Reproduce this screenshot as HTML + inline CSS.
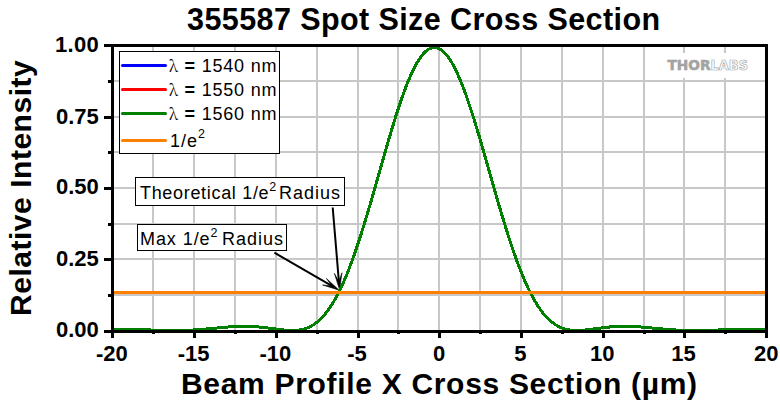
<!DOCTYPE html>
<html><head><meta charset="utf-8"><title>355587 Spot Size Cross Section</title>
<style>html,body{margin:0;padding:0;background:#fff;overflow:hidden}svg{display:block}</style>
</head><body>
<svg width="780" height="402" viewBox="0 0 780 402"><rect x="0" y="0" width="780" height="402" fill="#fff"/>
<g fill="#c8c8c8"><rect x="152" y="47" width="2" height="283"/><rect x="193" y="47" width="2" height="283"/><rect x="234" y="47" width="2" height="283"/><rect x="275" y="47" width="2" height="283"/><rect x="316" y="47" width="2" height="283"/><rect x="357" y="47" width="2" height="283"/><rect x="397" y="47" width="2" height="283"/><rect x="438" y="47" width="2" height="283"/><rect x="479" y="47" width="2" height="283"/><rect x="520" y="47" width="2" height="283"/><rect x="561" y="47" width="2" height="283"/><rect x="602" y="47" width="2" height="283"/><rect x="643" y="47" width="2" height="283"/><rect x="683" y="47" width="2" height="283"/><rect x="724" y="47" width="2" height="283"/><rect x="114" y="80" width="651" height="2"/><rect x="114" y="116" width="651" height="2"/><rect x="114" y="151" width="651" height="2"/><rect x="114" y="187" width="651" height="2"/><rect x="114" y="223" width="651" height="2"/><rect x="114" y="258" width="651" height="2"/><rect x="114" y="294" width="651" height="2"/></g>
<rect x="662" y="53" width="90" height="25" fill="#fff"/>
<text x="667.5" y="70" font-family="DejaVu Sans, sans-serif" font-weight="bold" font-size="14.2" fill="#a3a3a3" stroke="#a3a3a3" stroke-width="0.6" textLength="43" lengthAdjust="spacingAndGlyphs">THOR</text>
<text x="710.5" y="70" font-family="DejaVu Sans, sans-serif" font-weight="bold" font-size="14.2" fill="#fff" stroke="#a8a8a8" stroke-width="0.7" textLength="37.5" lengthAdjust="spacingAndGlyphs">LABS</text>
<line x1="332.7" y1="207.5" x2="338.93" y2="282.03" stroke="#000" stroke-width="2"/><path d="M339.6,290 L334.40,273.38 L338.89,281.53 L341.97,272.74 Z" fill="#000" stroke="#000" stroke-width="0.6" stroke-linejoin="miter"/>
<line x1="274.4" y1="252.7" x2="332.28" y2="286.19" stroke="#000" stroke-width="2"/><path d="M339.2,290.2 L322.58,284.97 L331.84,285.94 L326.39,278.40 Z" fill="#000" stroke="#000" stroke-width="0.6" stroke-linejoin="miter"/>
<clipPath id="pc"><rect x="114" y="47" width="651" height="283"/></clipPath>
<g clip-path="url(#pc)">
<path d="M114.0,329.55 L114.5,329.55 L115.0,329.54 L115.5,329.54 L116.0,329.53 L116.5,329.53 L117.0,329.52 L117.5,329.52 L118.0,329.52 L118.5,329.51 L119.0,329.51 L119.5,329.51 L120.0,329.51 L120.5,329.50 L121.0,329.50 L121.5,329.50 L122.0,329.50 L122.5,329.50 L123.0,329.50 L123.5,329.50 L124.0,329.50 L124.5,329.50 L125.0,329.50 L125.5,329.51 L126.0,329.51 L126.5,329.51 L127.0,329.51 L127.5,329.52 L128.0,329.52 L128.5,329.52 L129.0,329.53 L129.5,329.53 L130.0,329.54 L130.5,329.54 L131.0,329.55 L131.5,329.56 L132.0,329.56 L132.5,329.57 L133.0,329.58 L133.5,329.58 L134.0,329.59 L134.5,329.60 L135.0,329.61 L135.5,329.62 L136.0,329.63 L136.5,329.64 L137.0,329.65 L137.5,329.66 L138.0,329.67 L138.5,329.68 L139.0,329.69 L139.5,329.70 L140.0,329.71 L140.5,329.72 L141.0,329.74 L141.5,329.75 L142.0,329.76 L142.5,329.77 L143.0,329.79 L143.5,329.80 L144.0,329.81 L144.5,329.83 L145.0,329.84 L145.5,329.86 L146.0,329.87 L146.5,329.88 L147.0,329.90 L147.5,329.91 L148.0,329.93 L148.5,329.94 L149.0,329.96 L149.5,329.97 L150.0,329.99 L150.5,330.00 L151.0,330.02 L151.5,330.03 L152.0,330.05 L152.5,330.06 L153.0,330.08 L153.5,330.09 L154.0,330.11 L154.5,330.12 L155.0,330.14 L155.5,330.15 L156.0,330.17 L156.5,330.18 L157.0,330.19 L157.5,330.21 L158.0,330.22 L158.5,330.24 L159.0,330.25 L159.5,330.26 L160.0,330.28 L160.5,330.29 L161.0,330.30 L161.5,330.32 L162.0,330.33 L162.5,330.34 L163.0,330.35 L163.5,330.36 L164.0,330.37 L164.5,330.38 L165.0,330.39 L165.5,330.40 L166.0,330.41 L166.5,330.42 L167.0,330.43 L167.5,330.44 L168.0,330.45 L168.5,330.45 L169.0,330.46 L169.5,330.47 L170.0,330.47 L170.5,330.48 L171.0,330.48 L171.5,330.49 L172.0,330.49 L172.5,330.49 L173.0,330.50 L173.5,330.50 L174.0,330.50 L174.5,330.50 L175.0,330.50 L175.5,330.50 L176.0,330.50 L176.5,330.50 L177.0,330.49 L177.5,330.49 L178.0,330.49 L178.5,330.48 L179.0,330.47 L179.5,330.47 L180.0,330.46 L180.5,330.45 L181.0,330.45 L181.5,330.44 L182.0,330.43 L182.5,330.41 L183.0,330.40 L183.5,330.39 L184.0,330.38 L184.5,330.36 L185.0,330.35 L185.5,330.33 L186.0,330.32 L186.5,330.30 L187.0,330.28 L187.5,330.26 L188.0,330.24 L188.5,330.22 L189.0,330.20 L189.5,330.18 L190.0,330.16 L190.5,330.13 L191.0,330.11 L191.5,330.08 L192.0,330.06 L192.5,330.03 L193.0,330.00 L193.5,329.98 L194.0,329.95 L194.5,329.92 L195.0,329.89 L195.5,329.86 L196.0,329.82 L196.5,329.79 L197.0,329.76 L197.5,329.72 L198.0,329.69 L198.5,329.65 L199.0,329.62 L199.5,329.58 L200.0,329.54 L200.5,329.50 L201.0,329.46 L201.5,329.42 L202.0,329.38 L202.5,329.34 L203.0,329.30 L203.5,329.26 L204.0,329.22 L204.5,329.17 L205.0,329.13 L205.5,329.09 L206.0,329.04 L206.5,329.00 L207.0,328.95 L207.5,328.91 L208.0,328.86 L208.5,328.81 L209.0,328.77 L209.5,328.72 L210.0,328.67 L210.5,328.63 L211.0,328.58 L211.5,328.53 L212.0,328.48 L212.5,328.43 L213.0,328.38 L213.5,328.33 L214.0,328.29 L214.5,328.24 L215.0,328.19 L215.5,328.14 L216.0,328.09 L216.5,328.04 L217.0,327.99 L217.5,327.94 L218.0,327.90 L218.5,327.85 L219.0,327.80 L219.5,327.75 L220.0,327.70 L220.5,327.66 L221.0,327.61 L221.5,327.56 L222.0,327.51 L222.5,327.47 L223.0,327.42 L223.5,327.38 L224.0,327.33 L224.5,327.29 L225.0,327.25 L225.5,327.20 L226.0,327.16 L226.5,327.12 L227.0,327.08 L227.5,327.04 L228.0,327.00 L228.5,326.96 L229.0,326.92 L229.5,326.88 L230.0,326.85 L230.5,326.81 L231.0,326.78 L231.5,326.74 L232.0,326.71 L232.5,326.68 L233.0,326.65 L233.5,326.62 L234.0,326.59 L234.5,326.56 L235.0,326.54 L235.5,326.51 L236.0,326.49 L236.5,326.47 L237.0,326.45 L237.5,326.43 L238.0,326.41 L238.5,326.39 L239.0,326.37 L239.5,326.36 L240.0,326.35 L240.5,326.33 L241.0,326.32 L241.5,326.31 L242.0,326.31 L242.5,326.30 L243.0,326.30 L243.5,326.29 L244.0,326.29 L244.5,326.29 L245.0,326.29 L245.5,326.30 L246.0,326.30 L246.5,326.31 L247.0,326.31 L247.5,326.32 L248.0,326.33 L248.5,326.35 L249.0,326.36 L249.5,326.38 L250.0,326.39 L250.5,326.41 L251.0,326.43 L251.5,326.45 L252.0,326.48 L252.5,326.50 L253.0,326.53 L253.5,326.56 L254.0,326.59 L254.5,326.62 L255.0,326.65 L255.5,326.69 L256.0,326.72 L256.5,326.76 L257.0,326.80 L257.5,326.84 L258.0,326.88 L258.5,326.93 L259.0,326.97 L259.5,327.02 L260.0,327.07 L260.5,327.12 L261.0,327.17 L261.5,327.22 L262.0,327.27 L262.5,327.32 L263.0,327.38 L263.5,327.44 L264.0,327.49 L264.5,327.55 L265.0,327.61 L265.5,327.67 L266.0,327.73 L266.5,327.80 L267.0,327.86 L267.5,327.92 L268.0,327.99 L268.5,328.05 L269.0,328.12 L269.5,328.18 L270.0,328.25 L270.5,328.32 L271.0,328.39 L271.5,328.45 L272.0,328.52 L272.5,328.59 L273.0,328.66 L273.5,328.73 L274.0,328.80 L274.5,328.86 L275.0,328.93 L275.5,329.00 L276.0,329.07 L276.5,329.13 L277.0,329.20 L277.5,329.27 L278.0,329.33 L278.5,329.40 L279.0,329.46 L279.5,329.52 L280.0,329.59 L280.5,329.65 L281.0,329.71 L281.5,329.76 L282.0,329.82 L282.5,329.88 L283.0,329.93 L283.5,329.98 L284.0,330.03 L284.5,330.08 L285.0,330.13 L285.5,330.17 L286.0,330.21 L286.5,330.25 L287.0,330.29 L287.5,330.32 L288.0,330.35 L288.5,330.38 L289.0,330.41 L289.5,330.43 L290.0,330.45 L290.5,330.47 L291.0,330.48 L291.5,330.49 L292.0,330.50 L292.5,330.50 L293.0,330.50 L293.5,330.49 L294.0,330.48 L294.5,330.46 L295.0,330.44 L295.5,330.42 L296.0,330.38 L296.5,330.35 L297.0,330.30 L297.5,330.25 L298.0,330.20 L298.5,330.14 L299.0,330.07 L299.5,330.00 L300.0,329.92 L300.5,329.83 L301.0,329.73 L301.5,329.63 L302.0,329.52 L302.5,329.41 L303.0,329.28 L303.5,329.15 L304.0,329.01 L304.5,328.86 L305.0,328.71 L305.5,328.54 L306.0,328.37 L306.5,328.19 L307.0,328.00 L307.5,327.80 L308.0,327.59 L308.5,327.38 L309.0,327.15 L309.5,326.92 L310.0,326.67 L310.5,326.41 L311.0,326.15 L311.5,325.87 L312.0,325.59 L312.5,325.29 L313.0,324.99 L313.5,324.67 L314.0,324.34 L314.5,324.00 L315.0,323.65 L315.5,323.29 L316.0,322.92 L316.5,322.53 L317.0,322.14 L317.5,321.73 L318.0,321.31 L318.5,320.88 L319.0,320.44 L319.5,319.98 L320.0,319.51 L320.5,319.03 L321.0,318.54 L321.5,318.04 L322.0,317.52 L322.5,316.99 L323.0,316.44 L323.5,315.89 L324.0,315.32 L324.5,314.73 L325.0,314.14 L325.5,313.53 L326.0,312.90 L326.5,312.27 L327.0,311.62 L327.5,310.95 L328.0,310.27 L328.5,309.58 L329.0,308.87 L329.5,308.15 L330.0,307.42 L330.5,306.67 L331.0,305.91 L331.5,305.13 L332.0,304.34 L332.5,303.54 L333.0,302.72 L333.5,301.88 L334.0,301.03 L334.5,300.17 L335.0,299.29 L335.5,298.40 L336.0,297.49 L336.5,296.57 L337.0,295.64 L337.5,294.69 L338.0,293.72 L338.5,292.74 L339.0,291.75 L339.5,290.74 L340.0,289.72 L340.5,288.68 L341.0,287.63 L341.5,286.56 L342.0,285.48 L342.5,284.38 L343.0,283.27 L343.5,282.15 L344.0,281.01 L344.5,279.86 L345.0,278.69 L345.5,277.51 L346.0,276.32 L346.5,275.11 L347.0,273.89 L347.5,272.65 L348.0,271.40 L348.5,270.14 L349.0,268.86 L349.5,267.57 L350.0,266.27 L350.5,264.95 L351.0,263.62 L351.5,262.28 L352.0,260.92 L352.5,259.55 L353.0,258.17 L353.5,256.78 L354.0,255.37 L354.5,253.95 L355.0,252.52 L355.5,251.08 L356.0,249.62 L356.5,248.16 L357.0,246.68 L357.5,245.19 L358.0,243.69 L358.5,242.18 L359.0,240.66 L359.5,239.13 L360.0,237.59 L360.5,236.04 L361.0,234.47 L361.5,232.90 L362.0,231.32 L362.5,229.73 L363.0,228.13 L363.5,226.52 L364.0,224.90 L364.5,223.28 L365.0,221.64 L365.5,220.00 L366.0,218.35 L366.5,216.69 L367.0,215.02 L367.5,213.35 L368.0,211.67 L368.5,209.99 L369.0,208.30 L369.5,206.60 L370.0,204.89 L370.5,203.18 L371.0,201.47 L371.5,199.75 L372.0,198.03 L372.5,196.30 L373.0,194.57 L373.5,192.83 L374.0,191.09 L374.5,189.35 L375.0,187.60 L375.5,185.85 L376.0,184.10 L376.5,182.34 L377.0,180.59 L377.5,178.83 L378.0,177.07 L378.5,175.32 L379.0,173.56 L379.5,171.80 L380.0,170.04 L380.5,168.28 L381.0,166.52 L381.5,164.76 L382.0,163.01 L382.5,161.25 L383.0,159.50 L383.5,157.75 L384.0,156.00 L384.5,154.26 L385.0,152.52 L385.5,150.78 L386.0,149.05 L386.5,147.32 L387.0,145.60 L387.5,143.88 L388.0,142.16 L388.5,140.45 L389.0,138.75 L389.5,137.06 L390.0,135.37 L390.5,133.68 L391.0,132.01 L391.5,130.34 L392.0,128.68 L392.5,127.03 L393.0,125.39 L393.5,123.76 L394.0,122.13 L394.5,120.52 L395.0,118.91 L395.5,117.32 L396.0,115.73 L396.5,114.16 L397.0,112.60 L397.5,111.05 L398.0,109.51 L398.5,107.99 L399.0,106.47 L399.5,104.97 L400.0,103.49 L400.5,102.01 L401.0,100.55 L401.5,99.11 L402.0,97.68 L402.5,96.26 L403.0,94.86 L403.5,93.47 L404.0,92.10 L404.5,90.75 L405.0,89.41 L405.5,88.09 L406.0,86.78 L406.5,85.50 L407.0,84.22 L407.5,82.97 L408.0,81.74 L408.5,80.52 L409.0,79.32 L409.5,78.14 L410.0,76.98 L410.5,75.84 L411.0,74.72 L411.5,73.61 L412.0,72.53 L412.5,71.47 L413.0,70.43 L413.5,69.41 L414.0,68.41 L414.5,67.43 L415.0,66.47 L415.5,65.53 L416.0,64.62 L416.5,63.72 L417.0,62.85 L417.5,62.01 L418.0,61.18 L418.5,60.38 L419.0,59.60 L419.5,58.84 L420.0,58.10 L420.5,57.39 L421.0,56.71 L421.5,56.04 L422.0,55.40 L422.5,54.79 L423.0,54.20 L423.5,53.63 L424.0,53.09 L424.5,52.57 L425.0,52.08 L425.5,51.61 L426.0,51.16 L426.5,50.75 L427.0,50.35 L427.5,49.98 L428.0,49.64 L428.5,49.32 L429.0,49.03 L429.5,48.76 L430.0,48.52 L430.5,48.30 L431.0,48.11 L431.5,47.95 L432.0,47.81 L432.5,47.70 L433.0,47.61 L433.5,47.55 L434.0,47.51 L434.5,47.50 L435.0,47.52 L435.5,47.56 L436.0,47.62 L436.5,47.72 L437.0,47.84 L437.5,47.98 L438.0,48.15 L438.5,48.35 L439.0,48.57 L439.5,48.81 L440.0,49.09 L440.5,49.38 L441.0,49.71 L441.5,50.05 L442.0,50.43 L442.5,50.83 L443.0,51.25 L443.5,51.70 L444.0,52.17 L444.5,52.67 L445.0,53.19 L445.5,53.74 L446.0,54.31 L446.5,54.91 L447.0,55.53 L447.5,56.17 L448.0,56.84 L448.5,57.53 L449.0,58.25 L449.5,58.99 L450.0,59.75 L450.5,60.53 L451.0,61.34 L451.5,62.17 L452.0,63.03 L452.5,63.90 L453.0,64.80 L453.5,65.72 L454.0,66.66 L454.5,67.62 L455.0,68.60 L455.5,69.61 L456.0,70.63 L456.5,71.68 L457.0,72.75 L457.5,73.83 L458.0,74.94 L458.5,76.07 L459.0,77.21 L459.5,78.38 L460.0,79.56 L460.5,80.76 L461.0,81.98 L461.5,83.22 L462.0,84.48 L462.5,85.75 L463.0,87.04 L463.5,88.35 L464.0,89.68 L464.5,91.02 L465.0,92.38 L465.5,93.75 L466.0,95.14 L466.5,96.54 L467.0,97.96 L467.5,99.40 L468.0,100.84 L468.5,102.31 L469.0,103.78 L469.5,105.27 L470.0,106.78 L470.5,108.29 L471.0,109.82 L471.5,111.36 L472.0,112.91 L472.5,114.48 L473.0,116.05 L473.5,117.64 L474.0,119.23 L474.5,120.84 L475.0,122.46 L475.5,124.08 L476.0,125.72 L476.5,127.36 L477.0,129.01 L477.5,130.68 L478.0,132.34 L478.5,134.02 L479.0,135.70 L479.5,137.39 L480.0,139.09 L480.5,140.80 L481.0,142.51 L481.5,144.22 L482.0,145.94 L482.5,147.67 L483.0,149.40 L483.5,151.13 L484.0,152.87 L484.5,154.61 L485.0,156.35 L485.5,158.10 L486.0,159.85 L486.5,161.60 L487.0,163.36 L487.5,165.11 L488.0,166.87 L488.5,168.63 L489.0,170.39 L489.5,172.15 L490.0,173.91 L490.5,175.67 L491.0,177.43 L491.5,179.18 L492.0,180.94 L492.5,182.70 L493.0,184.45 L493.5,186.20 L494.0,187.95 L494.5,189.69 L495.0,191.44 L495.5,193.18 L496.0,194.91 L496.5,196.64 L497.0,198.37 L497.5,200.09 L498.0,201.81 L498.5,203.53 L499.0,205.24 L499.5,206.94 L500.0,208.63 L500.5,210.33 L501.0,212.01 L501.5,213.69 L502.0,215.36 L502.5,217.02 L503.0,218.68 L503.5,220.33 L504.0,221.97 L504.5,223.60 L505.0,225.23 L505.5,226.84 L506.0,228.45 L506.5,230.05 L507.0,231.64 L507.5,233.22 L508.0,234.79 L508.5,236.35 L509.0,237.90 L509.5,239.44 L510.0,240.97 L510.5,242.49 L511.0,243.99 L511.5,245.49 L512.0,246.98 L512.5,248.45 L513.0,249.92 L513.5,251.37 L514.0,252.81 L514.5,254.24 L515.0,255.65 L515.5,257.06 L516.0,258.45 L516.5,259.83 L517.0,261.19 L517.5,262.55 L518.0,263.89 L518.5,265.21 L519.0,266.53 L519.5,267.83 L520.0,269.12 L520.5,270.39 L521.0,271.65 L521.5,272.90 L522.0,274.13 L522.5,275.35 L523.0,276.56 L523.5,277.75 L524.0,278.93 L524.5,280.09 L525.0,281.24 L525.5,282.38 L526.0,283.50 L526.5,284.60 L527.0,285.70 L527.5,286.78 L528.0,287.84 L528.5,288.89 L529.0,289.92 L529.5,290.94 L530.0,291.95 L530.5,292.94 L531.0,293.92 L531.5,294.88 L532.0,295.82 L532.5,296.76 L533.0,297.68 L533.5,298.58 L534.0,299.47 L534.5,300.34 L535.0,301.20 L535.5,302.05 L536.0,302.88 L536.5,303.70 L537.0,304.50 L537.5,305.29 L538.0,306.06 L538.5,306.82 L539.0,307.57 L539.5,308.30 L540.0,309.02 L540.5,309.72 L541.0,310.41 L541.5,311.09 L542.0,311.75 L542.5,312.40 L543.0,313.03 L543.5,313.65 L544.0,314.26 L544.5,314.85 L545.0,315.43 L545.5,316.00 L546.0,316.55 L546.5,317.10 L547.0,317.62 L547.5,318.14 L548.0,318.64 L548.5,319.13 L549.0,319.61 L549.5,320.07 L550.0,320.53 L550.5,320.97 L551.0,321.40 L551.5,321.81 L552.0,322.22 L552.5,322.61 L553.0,322.99 L553.5,323.36 L554.0,323.72 L554.5,324.07 L555.0,324.41 L555.5,324.73 L556.0,325.05 L556.5,325.35 L557.0,325.65 L557.5,325.93 L558.0,326.20 L558.5,326.47 L559.0,326.72 L559.5,326.96 L560.0,327.20 L560.5,327.42 L561.0,327.64 L561.5,327.84 L562.0,328.04 L562.5,328.23 L563.0,328.41 L563.5,328.58 L564.0,328.74 L564.5,328.89 L565.0,329.04 L565.5,329.18 L566.0,329.31 L566.5,329.43 L567.0,329.54 L567.5,329.65 L568.0,329.75 L568.5,329.85 L569.0,329.93 L569.5,330.01 L570.0,330.08 L570.5,330.15 L571.0,330.21 L571.5,330.26 L572.0,330.31 L572.5,330.35 L573.0,330.39 L573.5,330.42 L574.0,330.45 L574.5,330.47 L575.0,330.48 L575.5,330.49 L576.0,330.50 L576.5,330.50 L577.0,330.50 L577.5,330.49 L578.0,330.48 L578.5,330.47 L579.0,330.45 L579.5,330.43 L580.0,330.40 L580.5,330.38 L581.0,330.35 L581.5,330.32 L582.0,330.28 L582.5,330.24 L583.0,330.20 L583.5,330.16 L584.0,330.12 L584.5,330.07 L585.0,330.02 L585.5,329.97 L586.0,329.92 L586.5,329.86 L587.0,329.81 L587.5,329.75 L588.0,329.69 L588.5,329.63 L589.0,329.57 L589.5,329.51 L590.0,329.45 L590.5,329.38 L591.0,329.32 L591.5,329.25 L592.0,329.19 L592.5,329.12 L593.0,329.05 L593.5,328.99 L594.0,328.92 L594.5,328.85 L595.0,328.78 L595.5,328.71 L596.0,328.64 L596.5,328.58 L597.0,328.51 L597.5,328.44 L598.0,328.37 L598.5,328.30 L599.0,328.24 L599.5,328.17 L600.0,328.10 L600.5,328.04 L601.0,327.97 L601.5,327.91 L602.0,327.85 L602.5,327.78 L603.0,327.72 L603.5,327.66 L604.0,327.60 L604.5,327.54 L605.0,327.48 L605.5,327.42 L606.0,327.37 L606.5,327.31 L607.0,327.26 L607.5,327.21 L608.0,327.16 L608.5,327.11 L609.0,327.06 L609.5,327.01 L610.0,326.96 L610.5,326.92 L611.0,326.88 L611.5,326.83 L612.0,326.79 L612.5,326.75 L613.0,326.72 L613.5,326.68 L614.0,326.65 L614.5,326.61 L615.0,326.58 L615.5,326.55 L616.0,326.53 L616.5,326.50 L617.0,326.47 L617.5,326.45 L618.0,326.43 L618.5,326.41 L619.0,326.39 L619.5,326.37 L620.0,326.36 L620.5,326.34 L621.0,326.33 L621.5,326.32 L622.0,326.31 L622.5,326.30 L623.0,326.30 L623.5,326.29 L624.0,326.29 L624.5,326.29 L625.0,326.29 L625.5,326.29 L626.0,326.30 L626.5,326.30 L627.0,326.31 L627.5,326.32 L628.0,326.33 L628.5,326.34 L629.0,326.35 L629.5,326.36 L630.0,326.38 L630.5,326.39 L631.0,326.41 L631.5,326.43 L632.0,326.45 L632.5,326.47 L633.0,326.49 L633.5,326.52 L634.0,326.54 L634.5,326.57 L635.0,326.60 L635.5,326.63 L636.0,326.66 L636.5,326.69 L637.0,326.72 L637.5,326.75 L638.0,326.78 L638.5,326.82 L639.0,326.85 L639.5,326.89 L640.0,326.93 L640.5,326.97 L641.0,327.01 L641.5,327.05 L642.0,327.09 L642.5,327.13 L643.0,327.17 L643.5,327.21 L644.0,327.25 L644.5,327.30 L645.0,327.34 L645.5,327.39 L646.0,327.43 L646.5,327.48 L647.0,327.52 L647.5,327.57 L648.0,327.62 L648.5,327.66 L649.0,327.71 L649.5,327.76 L650.0,327.81 L650.5,327.86 L651.0,327.90 L651.5,327.95 L652.0,328.00 L652.5,328.05 L653.0,328.10 L653.5,328.15 L654.0,328.20 L654.5,328.25 L655.0,328.30 L655.5,328.34 L656.0,328.39 L656.5,328.44 L657.0,328.49 L657.5,328.54 L658.0,328.59 L658.5,328.63 L659.0,328.68 L659.5,328.73 L660.0,328.78 L660.5,328.82 L661.0,328.87 L661.5,328.92 L662.0,328.96 L662.5,329.01 L663.0,329.05 L663.5,329.10 L664.0,329.14 L664.5,329.18 L665.0,329.23 L665.5,329.27 L666.0,329.31 L666.5,329.35 L667.0,329.39 L667.5,329.43 L668.0,329.47 L668.5,329.51 L669.0,329.55 L669.5,329.59 L670.0,329.62 L670.5,329.66 L671.0,329.69 L671.5,329.73 L672.0,329.76 L672.5,329.80 L673.0,329.83 L673.5,329.86 L674.0,329.89 L674.5,329.92 L675.0,329.95 L675.5,329.98 L676.0,330.01 L676.5,330.04 L677.0,330.06 L677.5,330.09 L678.0,330.11 L678.5,330.14 L679.0,330.16 L679.5,330.18 L680.0,330.21 L680.5,330.23 L681.0,330.25 L681.5,330.27 L682.0,330.29 L682.5,330.30 L683.0,330.32 L683.5,330.34 L684.0,330.35 L684.5,330.37 L685.0,330.38 L685.5,330.39 L686.0,330.41 L686.5,330.42 L687.0,330.43 L687.5,330.44 L688.0,330.45 L688.5,330.46 L689.0,330.46 L689.5,330.47 L690.0,330.48 L690.5,330.48 L691.0,330.49 L691.5,330.49 L692.0,330.49 L692.5,330.50 L693.0,330.50 L693.5,330.50 L694.0,330.50 L694.5,330.50 L695.0,330.50 L695.5,330.50 L696.0,330.50 L696.5,330.49 L697.0,330.49 L697.5,330.49 L698.0,330.48 L698.5,330.48 L699.0,330.47 L699.5,330.47 L700.0,330.46 L700.5,330.45 L701.0,330.45 L701.5,330.44 L702.0,330.43 L702.5,330.42 L703.0,330.41 L703.5,330.40 L704.0,330.39 L704.5,330.38 L705.0,330.37 L705.5,330.36 L706.0,330.35 L706.5,330.34 L707.0,330.33 L707.5,330.31 L708.0,330.30 L708.5,330.29 L709.0,330.27 L709.5,330.26 L710.0,330.25 L710.5,330.23 L711.0,330.22 L711.5,330.21 L712.0,330.19 L712.5,330.18 L713.0,330.16 L713.5,330.15 L714.0,330.13 L714.5,330.12 L715.0,330.10 L715.5,330.09 L716.0,330.07 L716.5,330.06 L717.0,330.04 L717.5,330.03 L718.0,330.01 L718.5,330.00 L719.0,329.98 L719.5,329.97 L720.0,329.95 L720.5,329.94 L721.0,329.92 L721.5,329.91 L722.0,329.90 L722.5,329.88 L723.0,329.87 L723.5,329.85 L724.0,329.84 L724.5,329.82 L725.0,329.81 L725.5,329.80 L726.0,329.78 L726.5,329.77 L727.0,329.76 L727.5,329.75 L728.0,329.73 L728.5,329.72 L729.0,329.71 L729.5,329.70 L730.0,329.69 L730.5,329.68 L731.0,329.67 L731.5,329.66 L732.0,329.64 L732.5,329.64 L733.0,329.63 L733.5,329.62 L734.0,329.61 L734.5,329.60 L735.0,329.59 L735.5,329.58 L736.0,329.58 L736.5,329.57 L737.0,329.56 L737.5,329.55 L738.0,329.55 L738.5,329.54 L739.0,329.54 L739.5,329.53 L740.0,329.53 L740.5,329.52 L741.0,329.52 L741.5,329.52 L742.0,329.51 L742.5,329.51 L743.0,329.51 L743.5,329.50 L744.0,329.50 L744.5,329.50 L745.0,329.50 L745.5,329.50 L746.0,329.50 L746.5,329.50 L747.0,329.50 L747.5,329.50 L748.0,329.50 L748.5,329.50 L749.0,329.51 L749.5,329.51 L750.0,329.51 L750.5,329.51 L751.0,329.52 L751.5,329.52 L752.0,329.52 L752.5,329.53 L753.0,329.53 L753.5,329.54 L754.0,329.54 L754.5,329.55 L755.0,329.55 L755.5,329.56 L756.0,329.57 L756.5,329.57 L757.0,329.58 L757.5,329.59 L758.0,329.60 L758.5,329.60 L759.0,329.61 L759.5,329.62 L760.0,329.63 L760.5,329.64 L761.0,329.65 L761.5,329.66 L762.0,329.66 L762.5,329.67 L763.0,329.68 L763.5,329.69 L764.0,329.70 L764.5,329.71 L765.0,329.73" fill="none" stroke="#008000" stroke-width="3.0" stroke-linejoin="round" shape-rendering="crispEdges"/>
</g>
<rect x="114" y="291" width="651" height="3" fill="#ff8000"/>
<g fill="#000"><rect x="104" y="44" width="664" height="3"/><rect x="765" y="44" width="3" height="289"/><rect x="111" y="330" width="657" height="3"/><rect x="111" y="44" width="3" height="294"/><rect x="108" y="80" width="4" height="3"/><rect x="104" y="116" width="8" height="3"/><rect x="108" y="151" width="4" height="3"/><rect x="104" y="187" width="8" height="3"/><rect x="108" y="223" width="4" height="3"/><rect x="104" y="258" width="8" height="3"/><rect x="108" y="294" width="4" height="3"/><rect x="104" y="330" width="8" height="3"/><rect x="152" y="332" width="3" height="2"/><rect x="193" y="332" width="3" height="6"/><rect x="234" y="332" width="3" height="2"/><rect x="275" y="332" width="3" height="6"/><rect x="316" y="332" width="3" height="2"/><rect x="357" y="332" width="3" height="6"/><rect x="397" y="332" width="3" height="2"/><rect x="438" y="332" width="3" height="6"/><rect x="479" y="332" width="3" height="2"/><rect x="520" y="332" width="3" height="6"/><rect x="561" y="332" width="3" height="2"/><rect x="602" y="332" width="3" height="6"/><rect x="643" y="332" width="3" height="2"/><rect x="683" y="332" width="3" height="6"/><rect x="724" y="332" width="3" height="2"/><rect x="765" y="332" width="3" height="6"/></g>
<rect x="119.5" y="51.5" width="160" height="102" fill="#fff" stroke="#000" stroke-width="1"/>
<line x1="122.5" y1="65.5" x2="165.5" y2="65.5" stroke="#0000ff" stroke-width="3" stroke-linecap="round"/>
<line x1="122.5" y1="89.5" x2="165.5" y2="89.5" stroke="#ff0000" stroke-width="3" stroke-linecap="round"/>
<line x1="122.5" y1="113.5" x2="165.5" y2="113.5" stroke="#008000" stroke-width="3" stroke-linecap="round"/>
<line x1="122.5" y1="140.5" x2="165.5" y2="140.5" stroke="#ff8000" stroke-width="3" stroke-linecap="round"/>
<text x="169.00" y="72.00" font-family="Liberation Sans, Arial, sans-serif" font-size="18.00" letter-spacing="0.800"><tspan font-family="Noto Serif CJK SC, serif" font-size="15.5">λ</tspan> <tspan font-weight="bold">=</tspan> 1540 nm</text>
<text x="169.00" y="96.00" font-family="Liberation Sans, Arial, sans-serif" font-size="18.00" letter-spacing="0.800"><tspan font-family="Noto Serif CJK SC, serif" font-size="15.5">λ</tspan> <tspan font-weight="bold">=</tspan> 1550 nm</text>
<text x="169.00" y="120.00" font-family="Liberation Sans, Arial, sans-serif" font-size="18.00" letter-spacing="0.800"><tspan font-family="Noto Serif CJK SC, serif" font-size="15.5">λ</tspan> <tspan font-weight="bold">=</tspan> 1560 nm</text>
<text x="170.00" y="147.00" font-family="Liberation Sans, Arial, sans-serif" font-size="18.00" letter-spacing="1.000">1/e<tspan font-size="12.5" dy="-9.5">2</tspan></text>
<rect x="135.5" y="177.5" width="209" height="28" fill="#fff" stroke="#000" stroke-width="1"/>
<text x="140.00" y="199.00" font-family="Liberation Sans, Arial, sans-serif" font-size="18.00" letter-spacing="0.682">Theoretical 1/e<tspan font-size="12.5" dy="-8.5">2</tspan></text>
<text x="279.00" y="199.00" font-family="Liberation Sans, Arial, sans-serif" font-size="18.00" letter-spacing="1.000">Radius</text>
<rect x="137.5" y="224.5" width="149" height="26" fill="#fff" stroke="#000" stroke-width="1"/>
<text x="140.00" y="245.00" font-family="Liberation Sans, Arial, sans-serif" font-size="18.00" letter-spacing="0.929">Max 1/e<tspan font-size="12.5" dy="-8.5">2</tspan></text>
<text x="222.00" y="245.00" font-family="Liberation Sans, Arial, sans-serif" font-size="18.00" letter-spacing="1.000">Radius</text>
<text x="55.00" y="52.00" font-family="Liberation Sans, Arial, sans-serif" font-weight="bold" font-size="22.00" letter-spacing="0.333">1.00</text>
<text x="56.00" y="124.00" font-family="Liberation Sans, Arial, sans-serif" font-weight="bold" font-size="22.00" letter-spacing="0.000">0.75</text>
<text x="56.00" y="194.00" font-family="Liberation Sans, Arial, sans-serif" font-weight="bold" font-size="22.00" letter-spacing="0.000">0.50</text>
<text x="56.00" y="266.00" font-family="Liberation Sans, Arial, sans-serif" font-weight="bold" font-size="22.00" letter-spacing="0.000">0.25</text>
<text x="56.00" y="337.00" font-family="Liberation Sans, Arial, sans-serif" font-weight="bold" font-size="22.00" letter-spacing="0.000">0.00</text>
<text x="96.00" y="361.00" font-family="Liberation Sans, Arial, sans-serif" font-weight="bold" font-size="22.00" letter-spacing="0.000">-20</text>
<text x="177.75" y="361.00" font-family="Liberation Sans, Arial, sans-serif" font-weight="bold" font-size="22.00" letter-spacing="0.000">-15</text>
<text x="259.50" y="361.00" font-family="Liberation Sans, Arial, sans-serif" font-weight="bold" font-size="22.00" letter-spacing="0.000">-10</text>
<text x="347.25" y="361.00" font-family="Liberation Sans, Arial, sans-serif" font-weight="bold" font-size="22.00" letter-spacing="0.000">-5</text>
<text x="433.00" y="361.00" font-family="Liberation Sans, Arial, sans-serif" font-weight="bold" font-size="22.00" letter-spacing="0.000">0</text>
<text x="514.25" y="361.00" font-family="Liberation Sans, Arial, sans-serif" font-weight="bold" font-size="22.00" letter-spacing="0.000">5</text>
<text x="590.00" y="361.00" font-family="Liberation Sans, Arial, sans-serif" font-weight="bold" font-size="22.00" letter-spacing="0.000">10</text>
<text x="671.25" y="361.00" font-family="Liberation Sans, Arial, sans-serif" font-weight="bold" font-size="22.00" letter-spacing="0.000">15</text>
<text x="754.00" y="361.00" font-family="Liberation Sans, Arial, sans-serif" font-weight="bold" font-size="22.00" letter-spacing="0.000">20</text>
<text x="187.00" y="30.00" font-family="Liberation Sans, Arial, sans-serif" font-weight="bold" font-size="30.50" letter-spacing="0.414">355587 Spot Size Cross Section</text>
<text x="181.00" y="393.50" font-family="Liberation Sans, Arial, sans-serif" font-weight="bold" font-size="30.00" letter-spacing="0.688">Beam Profile X Cross Section (µm)</text>
<text transform="translate(31.00,316.00) rotate(-90)" font-family="Liberation Sans, Arial, sans-serif" font-weight="bold" font-size="30.00" letter-spacing="0.529">Relative Intensity</text></svg>
</body></html>
